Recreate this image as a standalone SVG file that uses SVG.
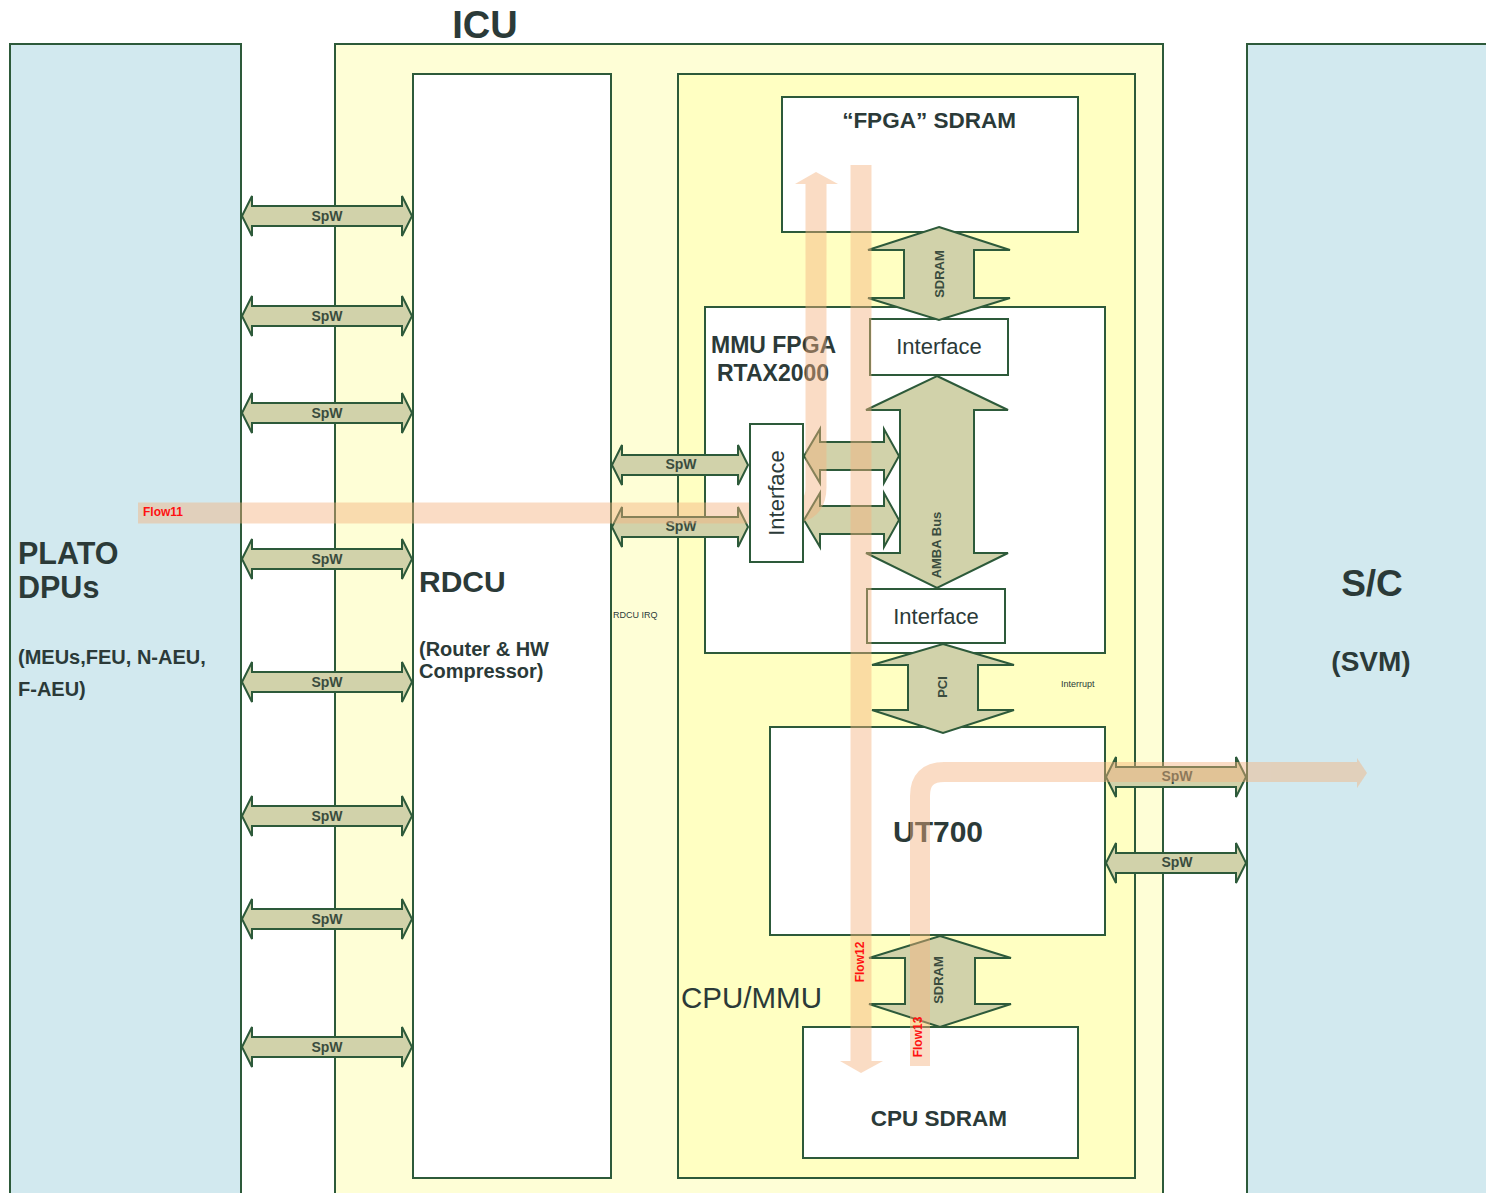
<svg xmlns="http://www.w3.org/2000/svg" width="1486" height="1193" viewBox="0 0 1486 1193">
<style>
.panel{fill:#d2e9ef;stroke:#2d5a3a;stroke-width:2}
.icu{fill:#fefed6;stroke:#2d5a3a;stroke-width:2}
.cpu{fill:#ffffc2;stroke:#2d5a3a;stroke-width:2}
.box{fill:#ffffff;stroke:#2d5a3a;stroke-width:2}
.arr{fill:#d1d2aa;stroke:#2d5a3a;stroke-width:2;stroke-linejoin:miter}
.t{font-family:"Liberation Sans",Arial,sans-serif;fill:#2b3a38}
.b{font-weight:bold}
.spw{font-family:"Liberation Sans",Arial,sans-serif;font-weight:bold;font-size:14px;fill:#3a4c3e;text-anchor:middle;dominant-baseline:central}
.lbl{font-family:"Liberation Sans",Arial,sans-serif;font-weight:bold;font-size:13px;fill:#3a4c3e;text-anchor:middle;dominant-baseline:central}
.flowt{font-family:"Liberation Sans",Arial,sans-serif;font-weight:bold;font-size:12px;fill:#ff1010}
.fl{fill:none;stroke:#f4b27e}
.fh{fill:#f4b27e}
</style>
<rect width="1486" height="1193" fill="#ffffff"/>

<g id="plato">
<rect class="panel" x="10" y="44" width="231" height="1160"/>
<text class="t b" x="18" y="564" font-size="30.5">PLATO</text>
<text class="t b" x="18" y="598" font-size="30.5">DPUs</text>
<text class="t b" x="18" y="664" font-size="20">(MEUs,FEU, N-AEU,</text>
<text class="t b" x="18" y="696" font-size="20">F-AEU)</text>
</g>

<g id="icu">
<rect class="icu" x="335" y="44" width="828" height="1160"/>
<text class="t" x="485" y="38" font-size="38" text-anchor="middle" font-weight="bold">ICU</text>
</g>

<g id="sc">
<rect class="panel" x="1247" y="44" width="250" height="1160"/>
<text class="t b" x="1372" y="596" font-size="37" text-anchor="middle">S/C</text>
<text class="t b" x="1371" y="671" font-size="28" text-anchor="middle">(SVM)</text>
</g>

<g id="rdcu">
<rect class="box" x="413" y="74" width="198" height="1104"/>
<text class="t" x="419" y="592" font-size="30" font-weight="bold">RDCU</text>
<text class="t b" x="419" y="656" font-size="20">(Router &amp; HW</text>
<text class="t b" x="419" y="678" font-size="20">Compressor)</text>
</g>

<g id="cpummu">
<rect class="cpu" x="678" y="74" width="457" height="1104"/>
<text class="t" x="681" y="1008" font-size="29.5">CPU/MMU</text>
</g>

<g id="fpga-sdram">
<rect class="box" x="782" y="97" width="296" height="135"/>
<text class="t b" x="929" y="128" font-size="22.5" text-anchor="middle">“FPGA” SDRAM</text>
</g>

<g id="mmu-fpga">
<rect class="box" x="705" y="307" width="400" height="346"/>
<text class="t b" x="711" y="353" font-size="23">MMU FPGA</text>
<text class="t b" x="717" y="381" font-size="23">RTAX2000</text>
</g>

<g id="interface-top">
<rect class="box" x="870" y="319" width="138" height="56"/>
<text class="t" x="939" y="354" font-size="22" text-anchor="middle">Interface</text>
</g>

<g id="interface-bottom">
<rect class="box" x="867" y="589" width="138" height="54"/>
<text class="t" x="936" y="624" font-size="22" text-anchor="middle">Interface</text>
</g>

<g id="ut700">
<rect class="box" x="770" y="727" width="335" height="208"/>
<text class="t b" x="938" y="842" font-size="30" text-anchor="middle">UT700</text>
</g>

<g id="cpu-sdram">
<rect class="box" x="803" y="1027" width="275" height="131"/>
<text class="t b" x="939" y="1126" font-size="22.5" text-anchor="middle">CPU SDRAM</text>
</g>

<text class="t" x="613" y="618" font-size="9">RDCU IRQ</text>
<text class="t" x="1061" y="687" font-size="9">Interrupt</text>

<g id="connectors">
<path class="arr" d="M242 216 L252 196 L252 206 L402 206 L402 196 L412 216 L402 236 L402 226 L252 226 L252 236 Z"/>
<path class="arr" d="M242 316 L252 296 L252 306 L402 306 L402 296 L412 316 L402 336 L402 326 L252 326 L252 336 Z"/>
<path class="arr" d="M242 413 L252 393 L252 403 L402 403 L402 393 L412 413 L402 433 L402 423 L252 423 L252 433 Z"/>
<path class="arr" d="M242 559 L252 539 L252 549 L402 549 L402 539 L412 559 L402 579 L402 569 L252 569 L252 579 Z"/>
<path class="arr" d="M242 682 L252 662 L252 672 L402 672 L402 662 L412 682 L402 702 L402 692 L252 692 L252 702 Z"/>
<path class="arr" d="M242 816 L252 796 L252 806 L402 806 L402 796 L412 816 L402 836 L402 826 L252 826 L252 836 Z"/>
<path class="arr" d="M242 919 L252 899 L252 909 L402 909 L402 899 L412 919 L402 939 L402 929 L252 929 L252 939 Z"/>
<path class="arr" d="M242 1047 L252 1027 L252 1037 L402 1037 L402 1027 L412 1047 L402 1067 L402 1057 L252 1057 L252 1067 Z"/>
<text class="spw" x="327" y="216">SpW</text>
<text class="spw" x="327" y="316">SpW</text>
<text class="spw" x="327" y="413">SpW</text>
<text class="spw" x="327" y="559">SpW</text>
<text class="spw" x="327" y="682">SpW</text>
<text class="spw" x="327" y="816">SpW</text>
<text class="spw" x="327" y="919">SpW</text>
<text class="spw" x="327" y="1047">SpW</text>
<path class="arr" d="M612 465 L622 445 L622 455 L738 455 L738 445 L748 465 L738 485 L738 475 L622 475 L622 485 Z"/>
<path class="arr" d="M612 527 L622 507 L622 517 L738 517 L738 507 L748 527 L738 547 L738 537 L622 537 L622 547 Z"/>
<text class="spw" x="681" y="464">SpW</text>
<text class="spw" x="681" y="526">SpW</text>
<path class="arr" d="M804 456 L820 429 L820 442 L884 442 L884 429 L899 456 L884 483 L884 470 L820 470 L820 483 Z"/>
<path class="arr" d="M804 520 L820 493 L820 506 L884 506 L884 493 L899 520 L884 547 L884 534 L820 534 L820 547 Z"/>
<path class="arr" d="M1106 777 L1116 757 L1116 767 L1236 767 L1236 757 L1246 777 L1236 797 L1236 787 L1116 787 L1116 797 Z"/>
<path class="arr" d="M1106 863 L1116 843 L1116 853 L1236 853 L1236 843 L1246 863 L1236 883 L1236 873 L1116 873 L1116 883 Z"/>
<text class="spw" x="1177" y="776">SpW</text>
<text class="spw" x="1177" y="862">SpW</text>
<path class="arr" d="M939 227 L1010 250 L974 250 L974 298 L1010 298 L939 320 L868 298 L904 298 L904 250 L868 250 Z"/>
<text class="lbl" transform="translate(939,274) rotate(-90)">SDRAM</text>
<path class="arr" d="M937 376 L1008 410 L974 410 L974 553 L1008 553 L937 588 L866 553 L900 553 L900 410 L866 410 Z"/>
<text class="lbl" transform="translate(936,545) rotate(-90)">AMBA Bus</text>
<path class="arr" d="M943 644 L1014 665 L978 665 L978 710 L1014 710 L943 733 L872 710 L908 710 L908 665 L872 665 Z"/>
<text class="lbl" transform="translate(942,687) rotate(-90)">PCI</text>
<path class="arr" d="M940 936 L1011 958 L975 958 L975 1004 L1011 1004 L940 1027 L869 1004 L905 1004 L905 958 L869 958 Z"/>
<text class="lbl" transform="translate(938,980) rotate(-90)">SDRAM</text>
</g>

<g id="flows">
<g id="flow11" opacity="0.45">
<path class="fl" stroke-width="21" d="M138 513 H790 Q816 513 816 487 V183"/>
<polygon class="fh" points="816,172 838,184 795,184"/>
</g>
<g id="flow12" opacity="0.45">
<path class="fl" stroke-width="21" d="M861 165 V1061"/>
<polygon class="fh" points="840,1061 883,1061 861,1073"/>
</g>
<g id="flow13" opacity="0.45">
<path class="fl" stroke-width="20" d="M920 1066 V796 Q920 772 944 772 H1357"/>
<polygon class="fh" points="1357,758 1367,773 1357,788"/>
</g>
<text class="flowt" x="143" y="516">Flow11</text>
<text class="flowt" transform="translate(864,962) rotate(-90)" text-anchor="middle">Flow12</text>
<text class="flowt" transform="translate(922,1037) rotate(-90)" text-anchor="middle">Flow13</text>
</g>

<g id="interface-vertical">
<rect class="box" x="750" y="424" width="53" height="138"/>
<text class="t" transform="translate(784,493) rotate(-90)" font-size="22" text-anchor="middle">Interface</text>
</g>
</svg>
